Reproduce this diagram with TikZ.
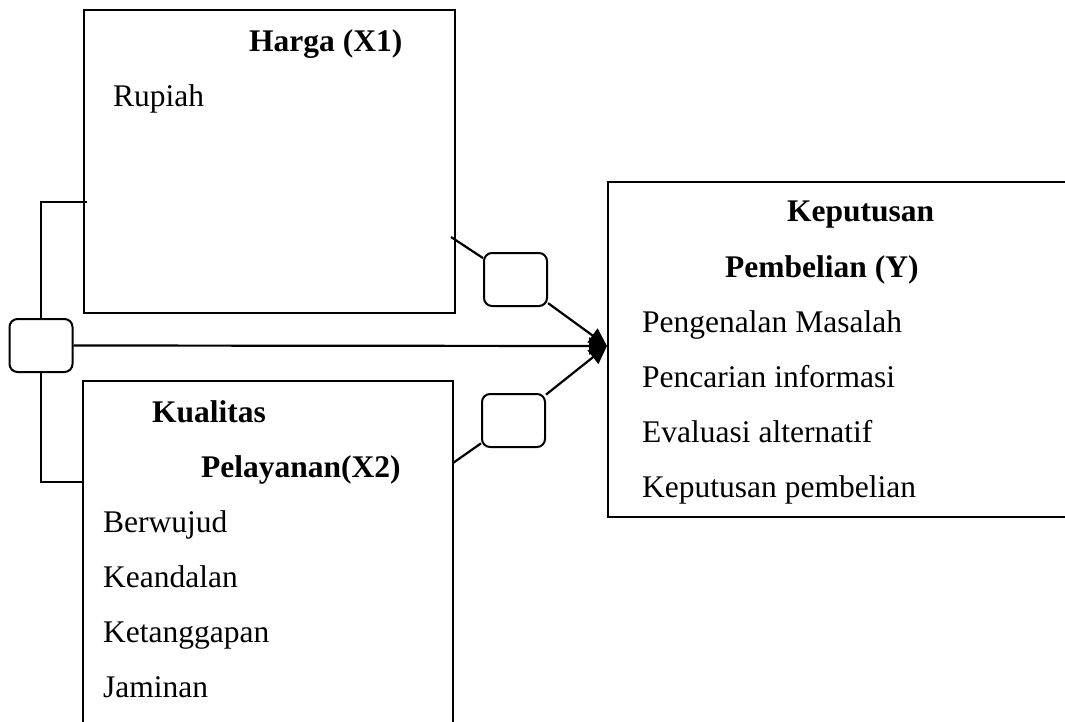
\documentclass[tikz,border=0pt]{standalone}
\usepackage{fontspec}
\setmainfont{Liberation Serif}
\usetikzlibrary{arrows.meta}
\begin{document}
\begin{tikzpicture}[x=1pt,y=-1pt,
  bigbox/.style={draw,line width=2pt,minimum width=#1,inner sep=0pt},
  smallbox/.style={draw,line width=2pt,rounded corners=8pt,minimum width=63pt,minimum height=53pt,inner sep=0pt},
  txt/.style={anchor=base west,inner sep=0pt,font=\fontsize{31.5}{37}\selectfont},
  btxt/.style={txt,font=\fontsize{31.5}{37}\selectfont\bfseries},
  conn/.style={line width=2.2pt},
  arr/.style={conn,-{Triangle[length=18pt,width=17pt]}}]
\clip (0,0) rectangle (1065,722);
\fill[white] (0,0) rectangle (1065,722);
% boxes
\node[bigbox=371pt,minimum height=303pt] (x1) at (269.5,161.5) {};
\node[bigbox=370pt,minimum height=379pt] (x2) at (268,570.5) {};
\node[bigbox=482pt,minimum height=335pt,line width=1.7pt] (y) at (849,349.5) {};
% small boxes
\node[smallbox] (s0) at (41,345.5) {};
\node[smallbox] (s1) at (515.5,279.5) {};
\node[smallbox] (s2) at (513.5,420.5) {};
% texts
\node[btxt] (t1) at (249,52) {Harga (X1)};
\node[txt] (t2) at (113,107) {Rupiah};
\node[btxt] (t3) at (152,422) {Kualitas};
\node[btxt] (t4) at (201,477) {Pelayanan(X2)};
\node[txt] (t5) at (103,532) {Berwujud};
\node[txt] (t6) at (103,587) {Keandalan};
\node[txt] (t7) at (103,642) {Ketanggapan};
\node[txt] (t8) at (103,697) {Jaminan};
\node[btxt] (t9) at (787,222) {Keputusan};
\node[btxt] (t10) at (725,277) {Pembelian (Y)};
\node[txt] (t11) at (642,332) {Pengenalan Masalah};
\node[txt] (t12) at (642,387) {Pencarian informasi};
\node[txt] (t13) at (642,442) {Evaluasi alternatif};
\node[txt] (t14) at (642,497) {Keputusan pembelian};
% coordinates
\coordinate (b1) at (87,202);
\coordinate (b2) at (84,482);
\coordinate (a1) at (451,237);
\coordinate (a2) at (453,463);
\coordinate (tip) at (607,346);
% bracket
\draw[conn] (s0.north) |- (b1);
\draw[conn] (s0.south) |- (b2);
% connectors
\draw[conn] (a1) -- (s1);
\draw[conn] (a2) -- (s2);
\draw[arr] (s0.east) -- (tip);
\draw[arr] (s1) -- (tip);
\draw[arr] (s2) -- (tip);
\end{tikzpicture}
\end{document}
